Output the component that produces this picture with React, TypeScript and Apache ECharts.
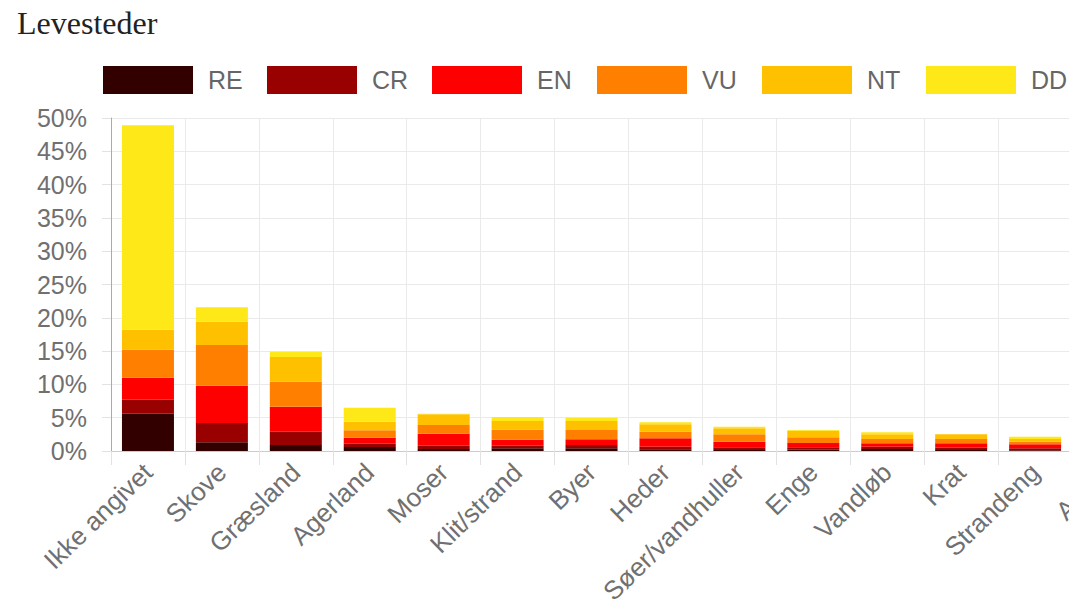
import React, { useEffect, useRef } from "react";
import * as echarts from "echarts";

const categories = [
  "Ikke angivet",
  "Skove",
  "Græsland",
  "Agerland",
  "Moser",
  "Klit/strand",
  "Byer",
  "Heder",
  "Søer/vandhuller",
  "Enge",
  "Vandløb",
  "Krat",
  "Strandeng",
  "Andet",
];

const seriesNames = ["RE", "CR", "EN", "VU", "NT", "DD"];
const seriesColors = ["#330000", "#990000", "#ff0000", "#ff8000", "#ffc000", "#ffe817"];

const RE = [5.6, 1.3, 0.9, 0.6, 0.3, 0.4, 0.4, 0.25, 0.15, 0.2, 0.3, 0.15, 0.1, 0.1];
const CR = [2.1, 2.9, 2.0, 0.5, 0.5, 0.4, 0.5, 0.4, 0.4, 0.35, 0.35, 0.35, 0.3, 0.3];
const EN = [3.3, 5.6, 3.75, 0.9, 1.8, 0.9, 0.85, 1.25, 0.85, 0.65, 0.5, 0.65, 0.6, 0.5];
const VU = [4.2, 6.1, 3.75, 1.1, 1.3, 1.5, 1.4, 1.0, 1.1, 0.85, 0.65, 0.65, 0.4, 0.4];
const NT = [3.0, 3.5, 3.7, 1.3, 1.6, 1.3, 1.35, 1.1, 0.9, 1.0, 0.7, 0.7, 0.4, 0.4];
const DD = [30.7, 2.2, 0.8, 2.1, 0.1, 0.6, 0.5, 0.3, 0.25, 0.1, 0.3, 0.0, 0.35, 0.2];

const seriesValues = [RE, CR, EN, VU, NT, DD];
const legendLefts = [103, 267, 432, 597, 762, 926];

export default function App() {
  const ref = useRef<HTMLDivElement>(null);

  useEffect(() => {
    if (!ref.current) return;
    const chart = echarts.init(ref.current, null, { renderer: "svg" });
    const font = "'Liberation Sans', Arial, sans-serif";
    chart.setOption({
      animation: false,
      backgroundColor: "#ffffff",
      title: {
        text: "Levesteder",
        left: 17,
        top: 7,
        padding: 0,
        textStyle: {
          fontFamily: "'Liberation Serif', 'Times New Roman', serif",
          fontSize: 32,
          fontWeight: "normal",
          color: "#222222",
        },
      },
      legend: seriesNames.map((name, i) => ({
        data: [name],
        left: legendLefts[i],
        top: 66,
        padding: 0,
        itemWidth: 90,
        itemHeight: 28,
        icon: "rect",
        selectedMode: false,
        textStyle: {
          fontFamily: font,
          fontSize: 25,
          color: "#666666",
          padding: [0, 0, 0, 10],
        },
      })),
      grid: {
        left: 111,
        top: 118,
        width: 1035,
        height: 333,
        containLabel: false,
        outerBoundsMode: "none",
      },
      xAxis: {
        type: "category",
        data: categories,
        axisLine: { show: true, lineStyle: { color: "#cccccc", width: 1 } },
        axisTick: { show: true, length: 14, lineStyle: { color: "#e2e2e2" } },
        splitLine: { show: true, lineStyle: { color: "#eaeaea" } },
        axisLabel: {
          interval: 0,
          rotate: 44,
          margin: 17,
          fontFamily: font,
          fontSize: 26,
          color: "#707070",
        },
      },
      yAxis: {
        type: "value",
        min: 0,
        max: 50,
        interval: 5,
        axisLine: { show: true, lineStyle: { color: "#aaaaaa" } },
        axisTick: { show: true, length: 9, lineStyle: { color: "#e2e2e2" } },
        splitLine: { show: true, lineStyle: { color: "#eaeaea" } },
        axisLabel: {
          formatter: "{value}%",
          margin: 24,
          fontFamily: font,
          fontSize: 25,
          color: "#707070",
        },
      },
      series: seriesNames.map((name, i) => ({
        name,
        type: "bar",
        stack: "total",
        barWidth: 52,
        data: seriesValues[i],
        itemStyle: { color: seriesColors[i] },
      })),
    });
    return () => chart.dispose();
  }, []);

  return (
    <div
      style={{
        position: "absolute",
        left: 0,
        top: 0,
        width: 1069,
        height: 606,
        overflow: "hidden",
        background: "#ffffff",
      }}
    >
      <div ref={ref} style={{ width: 1160, height: 606 }} />
    </div>
  );
}
